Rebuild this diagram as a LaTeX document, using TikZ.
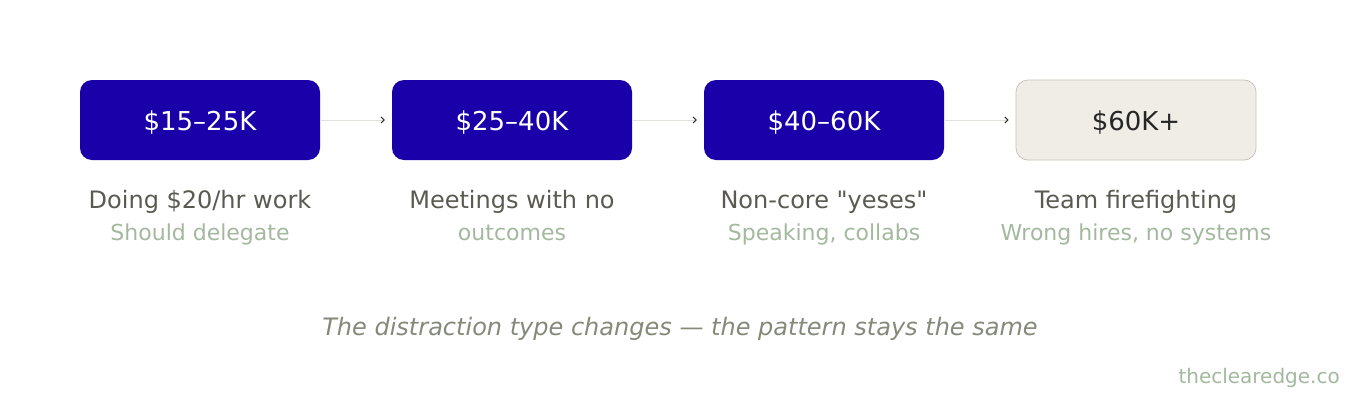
\documentclass[tikz,border=0pt]{standalone}
\usepackage{fontspec}
\setmainfont{DejaVu Sans}[Ligatures=TeXOff]
\usetikzlibrary{arrows.meta}
\definecolor{ink}{HTML}{1A00A8}
\definecolor{paper}{HTML}{F0EDE6}
\definecolor{paperline}{HTML}{C9C2B6}
\definecolor{labelgray}{HTML}{5A5A52}
\definecolor{subgreen}{HTML}{A3B89E}
\definecolor{notegray}{HTML}{85897A}
\definecolor{linkgray}{HTML}{E0DFDA}
\definecolor{tipgray}{HTML}{333333}

\begin{document}
\begin{tikzpicture}[x=1pt,y=-1pt,
  box/.style={rounded corners=12pt,minimum width=240pt,minimum height=80pt,inner sep=0pt,text height=20pt,text depth=0pt,fill=ink,text=white,font=\fontsize{26}{30}\selectfont},
  lastbox/.style={box,fill=paper,draw=paperline,text=black!85,line width=0.8pt},
  what/.style={anchor=base,text=labelgray,font=\fontsize{24}{28}\selectfont},
  why/.style={anchor=base,text=subgreen,font=\fontsize{22}{26}\selectfont},
  link/.style={draw=linkgray,line width=1pt,shorten >=7pt,-{Straight Barb[length=3pt,width=6pt,color=tipgray]}}]
  
            \useasboundingbox (0,0) rectangle (1360,400);
            
            \node[box] (a) at (200,120) {\$15–25K};
            
            \node[box] (b) at (512,120) {\$25–40K};
            
            \node[box] (c) at (824,120) {\$40–60K};
            
            \node[lastbox] (d) at (1136,120) {\$60K+};
            
            \draw[link] (a) -- (b) ;
            \draw[link] (b) -- (c) ;
            \draw[link] (c) -- (d) ;
            
            \node[what] (a1) at (200,208) {Doing \$20/hr work};
            \node[why] (a2) at (200,240) {Should delegate};
            
            \node[what] (b1) at (512,208) {Meetings with no};
            \node[why] (b2) at (512,240) {outcomes};
            
            \node[what] (c1) at (824,208) {Non-core "yeses"};
            \node[why] (c2) at (824,240) {Speaking, collabs};
            
            \node[what] (d1) at (1136,208) {Team firefighting};
            \node[why] (d2) at (1136,240) {Wrong hires, no systems};
            
            \node[anchor=base,text=notegray,font=\fontsize{24}{28}\selectfont\itshape] (note) at (680,335) {The distraction type changes — the pattern stays the same};
            
            \node[anchor=base east,text=subgreen,font=\fontsize{20}{24}\selectfont,inner sep=0pt] (site) at (1340,383) {theclearedge.co};
            \end{tikzpicture}
\end{document}
